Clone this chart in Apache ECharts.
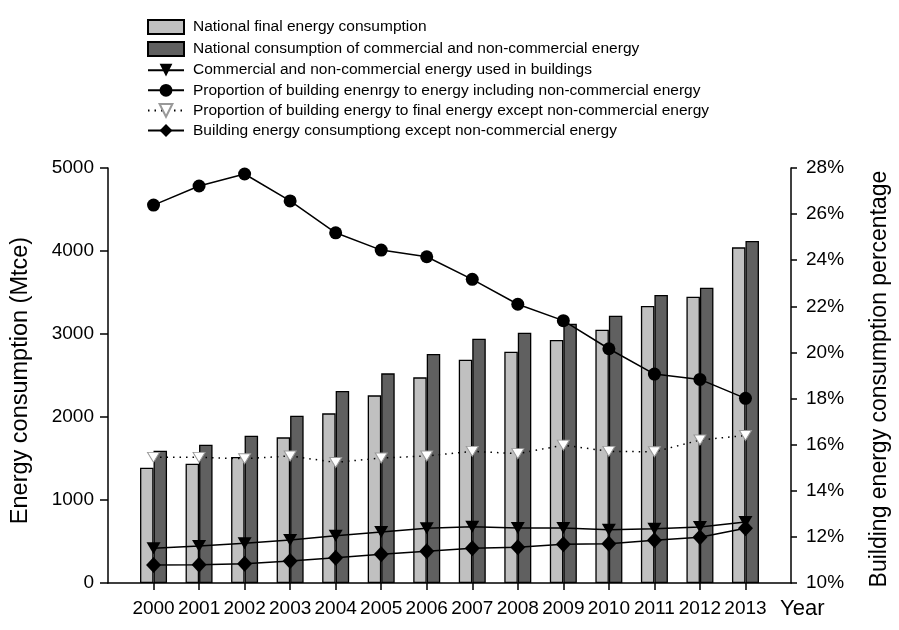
<!DOCTYPE html>
<html><head><meta charset="utf-8">
<script src="https://cdn.jsdelivr.net/npm/echarts@6/dist/echarts.min.js"></script>
<style>html,body{margin:0;padding:0;background:#fff}#c{width:899px;height:630px}</style>
</head><body><div id="c"></div>
<script>
const years = ['2000','2001','2002','2003','2004','2005','2006','2007','2008','2009','2010','2011','2012','2013'];
const finalEnergy = [1389,1437,1518,1755,2044,2261,2478,2691,2787,2928,3052,3337,3450,4044];
const totalEnergy = [1594,1666,1775,2016,2313,2526,2759,2944,3016,3124,3221,3470,3558,4120];
const buildingAll = [418,446,478,518,570,614,659,679,663,663,643,655,675,735];
const shareAll = [26.39,27.22,27.74,26.57,25.19,24.44,24.15,23.17,22.09,21.38,20.16,19.06,18.83,18.01];
const shareCommercial = [15.45,15.45,15.39,15.51,15.23,15.42,15.51,15.71,15.61,15.98,15.71,15.69,16.20,16.40];
const buildingCommercial = [217,221,233,265,305,345,382,418,430,466,474,514,550,659];
const leftTicks = [0,1000,2000,3000,4000,5000];
const rightTicks = [10,12,14,16,18,20,22,24,26,28];

const names = [
  'National final energy consumption',
  'National consumption of commercial and non-commercial energy',
  'Commercial and non-commercial energy used in buildings',
  'Proportion of building enenrgy to energy including non-commercial energy',
  'Proportion of building energy to final energy except non-commercial energy',
  'Building energy consumptiong except non-commercial energy'
];
const pad = a => [null, ...a, null];
const cats = ['', ...years, ''];
const FONT = 'Liberation Sans, Arial, sans-serif';
const rectIcon = 'path://M0,0M0,1L36,1L36,15L0,15ZM36,16';

const chart = echarts.init(document.getElementById('c'), null, {renderer:'canvas'});
chart.setOption({
  animation:false,
  backgroundColor:'#fff',
  textStyle:{fontFamily:FONT,color:'#000'},
  legend:{
    orient:'vertical', left:142, top:13, itemWidth:36, itemHeight:16, itemGap:4.1,
    textStyle:{fontSize:15.5,color:'#000',fontFamily:FONT, padding:[0,0,0,4]},
    data:[
      {name:names[0],icon:rectIcon},{name:names[1],icon:rectIcon},
      names[2],names[3],names[4],names[5]
    ]
  },
  grid:{left:108,right:104,top:168,bottom:47},
  xAxis:{
    type:'category', data:cats, boundaryGap:false,
    name:'Year', nameLocation:'end', nameGap:-11,
    nameTextStyle:{fontSize:22,color:'#000',fontFamily:FONT,verticalAlign:'top',align:'left',padding:[15,0,0,0]},
    axisLine:{lineStyle:{color:'#000',width:1.5}},
    axisTick:{length:7,lineStyle:{color:'#000',width:1.5},interval:(i)=>i>0&&i<cats.length-1},
    axisLabel:{interval:0,fontSize:19,color:'#000',margin:16,fontFamily:FONT},
    splitLine:{show:false}
  },
  yAxis:[{
    type:'value', min:leftTicks[0], max:leftTicks[leftTicks.length-1], interval:1000,
    name:'Energy consumption (Mtce)', nameLocation:'middle', nameRotate:90, nameGap:75,
    nameTextStyle:{fontSize:23.5,color:'#000',fontFamily:FONT,padding:[0,10,0,0]},
    axisLine:{show:true,lineStyle:{color:'#000',width:1.5}},
    axisTick:{show:true,length:8,lineStyle:{color:'#000',width:1.5}},
    axisLabel:{fontSize:19,color:'#000',margin:14,fontFamily:FONT,formatter:v=>String(v)},
    splitLine:{show:false}
  },{
    type:'value', min:rightTicks[0], max:rightTicks[rightTicks.length-1], interval:2, position:'right',
    name:'Building energy consumption percentage', nameLocation:'middle', nameRotate:90, nameGap:77,
    nameTextStyle:{fontSize:23,color:'#000',fontFamily:FONT,padding:[0,7,0,0]},
    axisLine:{show:true,lineStyle:{color:'#000',width:1.5}},
    axisTick:{show:true,length:6,lineStyle:{color:'#000',width:1.5}},
    axisLabel:{fontSize:19,color:'#000',margin:15,formatter:'{value}%',fontFamily:FONT},
    splitLine:{show:false}
  }],
  series:[
    {name:names[0],type:'bar',data:pad(finalEnergy),barWidth:13.5,barGap:'0%',
     itemStyle:{color:'#c0c0c0',borderColor:'#000',borderWidth:1.3}},
    {name:names[1],type:'bar',data:pad(totalEnergy),barWidth:13.5,barGap:'0%',
     itemStyle:{color:'#606060',borderColor:'#000',borderWidth:1.3}},
    {name:names[2],type:'line',data:pad(buildingAll),yAxisIndex:0,z:5,
     symbol:'triangle',symbolRotate:180,symbolSize:[14,12],
     lineStyle:{color:'#000',width:1.5},itemStyle:{color:'#000'}},
    {name:names[3],type:'line',data:pad(shareAll),yAxisIndex:1,z:5,
     symbol:'circle',symbolSize:13,
     lineStyle:{color:'#000',width:1.5},itemStyle:{color:'#000'}},
    {name:names[4],type:'line',data:pad(shareCommercial),yAxisIndex:1,z:5,
     symbol:'triangle',symbolRotate:180,symbolSize:[12,10],
     lineStyle:{color:'#000',width:1.5,type:[1.5,5]},itemStyle:{color:'#fff',borderColor:'#999',borderWidth:1}},
    {name:names[5],type:'line',data:pad(buildingCommercial),yAxisIndex:0,z:5,
     symbol:'diamond',symbolSize:[15,16],
     lineStyle:{color:'#000',width:1.5},itemStyle:{color:'#000'}}
  ]
});
</script></body></html>
